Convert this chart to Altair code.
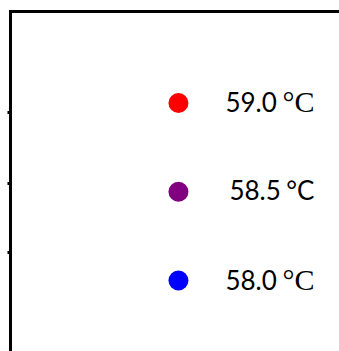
import altair as alt
import pandas as pd

# Temperature series shown in the key
temps = [59.0, 58.5, 58.0]
labels = ["59.0", "58.5", "58.0"]
colors = ["red", "purple", "blue"]

# Left-axis tick values (°C)
tick_values = [58.95, 58.55, 58.16]

# Horizontal slot of the key column
key_col = [0.512, 0.512, 0.512]

df = pd.DataFrame({"temp": temps, "label": labels, "col": key_col})

x = alt.X(
    "col:Q",
    scale=alt.Scale(domain=[0, 1], nice=False, zero=False),
    axis=alt.Axis(orient="top", labels=False, ticks=False, grid=False, title=None,
                  domainColor="black", domainWidth=3, domainCap="square"),
)
y = alt.Y(
    "temp:Q",
    scale=alt.Scale(domain=[57.603, 59.518], nice=False, zero=False),
    axis=alt.Axis(orient="left", labels=False, grid=False, title=None, values=tick_values,
                  ticks=True, tickSize=3, tickWidth=3, tickColor="black",
                  domainColor="black", domainWidth=3, domainCap="square"),
)

base = alt.Chart(df).encode(x=x, y=y)

points = base.mark_point(shape="circle", filled=True, opacity=1, size=400).encode(
    color=alt.Color("temp:N", scale=alt.Scale(domain=temps, range=colors), legend=None)
)

numbers = base.mark_text(
    align="left", baseline="alphabetic", font="Lato", fontSize=26, color="black", dx=47, dy=9
).encode(text="label:N").transform_filter(alt.datum.temp != 58.5)

number_mid = base.mark_text(
    align="left", baseline="alphabetic", font="Lato", fontSize=26, color="black", dx=51, dy=8
).encode(text="label:N").transform_filter(alt.datum.temp == 58.5)

units_serif = base.mark_text(
    align="right", baseline="alphabetic", font="Liberation Serif", fontSize=30, color="black",
    dx=136, dy=9
).encode(text=alt.value("°C")).transform_filter(alt.datum.temp != 58.5)

units_sans = base.mark_text(
    align="right", baseline="alphabetic", font="Lato", fontSize=26, color="black",
    dx=136, dy=8
).encode(text=alt.value("°C")).transform_filter(alt.datum.temp == 58.5)

chart = (
    alt.layer(points, numbers, number_mid, units_serif, units_sans)
    .properties(
        width=329,
        height=340,
        autosize=alt.AutoSizeParams(type="none"),
        padding={"left": 10, "top": 11, "right": 0, "bottom": 0},
        background="white",
    )
    .configure_view(stroke=None)
)

chart.save("out.html", embed_options={"renderer": "svg", "actions": False})
